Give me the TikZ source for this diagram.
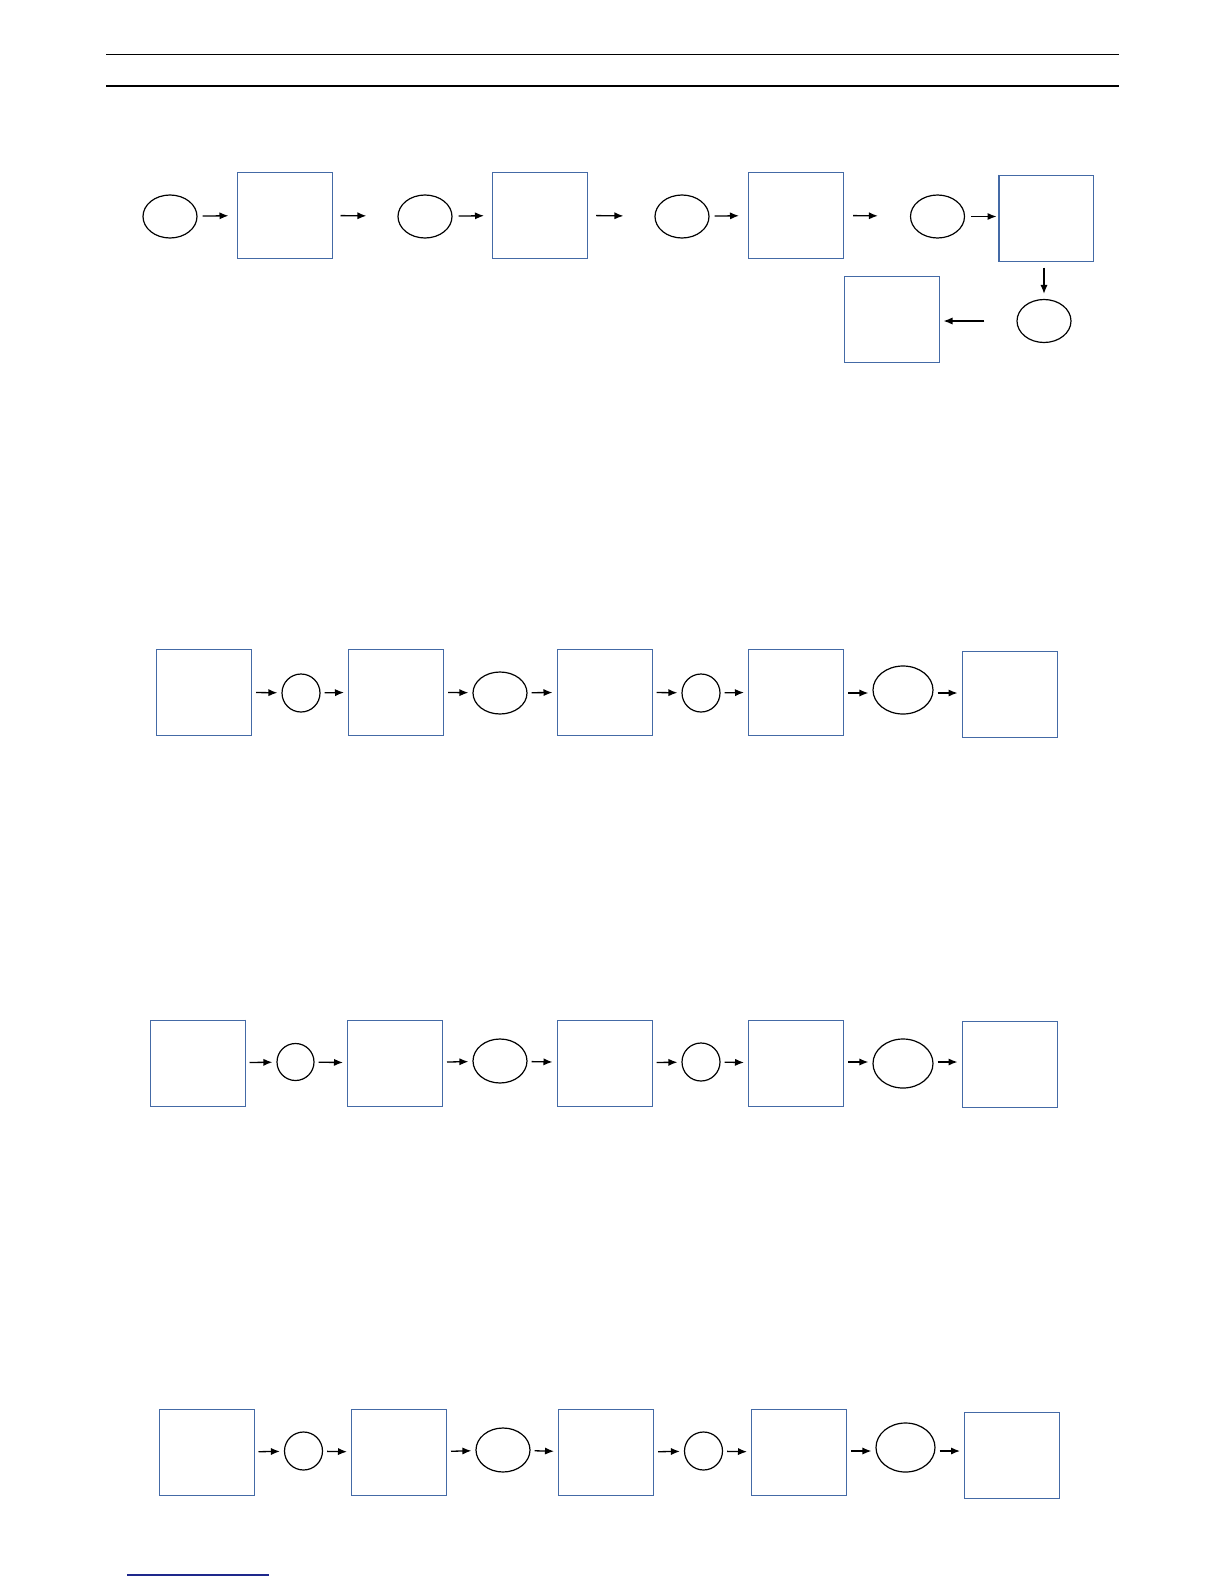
\documentclass[tikz,border=0pt]{standalone}
\usepackage{xcolor}
\usepackage{tikz}
\usetikzlibrary{shapes.geometric, arrows.meta, positioning}

\definecolor{boxblue}{RGB}{68,106,166}
\definecolor{notenavy}{RGB}{30,40,140}

\tikzset{
    stage/.style={rectangle, draw=boxblue, line width=0.5pt, inner sep=0pt, minimum width=47.5pt, minimum height=43pt},
    oval/.style={ellipse, draw=black, line width=0.6pt, inner sep=0pt, minimum width=27pt, minimum height=21.5pt},
    bigoval/.style={oval, minimum width=30pt, minimum height=24pt},
    ring/.style={circle, draw=black, line width=0.6pt, inner sep=0pt, minimum size=19pt},
    flow/.style={-{Latex[length=4.5pt,width=3.6pt]}, line width=0.65pt, shorten <=2pt, shorten >=2pt},
    gapflow/.style={flow, shorten <=4pt, shorten >=15.5pt},
}

\begin{document}
\begin{tikzpicture}[x=0.5pt, y=-0.5pt]
    \useasboundingbox (0,0) rectangle (1224,1584);

    % Header rules
    \draw[line width=0.6pt] (106,54.5) -- (1119,54.5);
    \draw[line width=0.6pt] (106,86) -- (1119,86);

    % Row 1
    \node[oval] (e1) at (170,216.5) {};
    \node[stage] (b1) at (284.5,215) {};
    \node[oval] (e2) at (425,216.5) {};
    \node[stage] (b2) at (540,215) {};
    \node[oval] (e3) at (682,216.5) {};
    \node[stage] (b3) at (796,215) {};
    \node[oval] (e4) at (937.5,216.5) {};
    \node[stage, minimum width=47pt] (b4) at (1046,218) {};
    \node[oval] (e5) at (1044,321) {};
    \node[stage] (b5) at (891.5,319.5) {};
    \draw[boxblue, line width=0.9pt] (b4.north west) -- (b4.south west);

    \draw[flow, shorten <=2.5pt, shorten >=4pt] (e1) -- (b1);
    \draw[gapflow] (b1) -- (e2);
    \draw[flow, shorten <=3pt, shorten >=4pt] (e2) -- (b2);
    \draw[gapflow] (b2) -- (e3);
    \draw[flow, shorten <=2.5pt, shorten >=4.5pt] (e3) -- (b3);
    \draw[gapflow, shorten <=4.5pt, shorten >=16pt] (b3) -- (e4);
    \draw[flow, shorten <=3pt, shorten >=1pt] (e4) -- (e4 -| b4.west);
    \draw[flow, shorten <=3pt, shorten >=2.5pt] (e5 |- b4.south) -- (e5);
    \draw[flow, shorten <=16pt, shorten >=2pt] (e5) -- (e5 -| b5.east);

    % Row 2
    \node[stage] (ra1) at (204,692) {};
    \node[ring] (rc1) at (301,693) {};
    \node[stage] (ra2) at (396,692) {};
    \node[oval, minimum height=21pt] (re1) at (500,693) {};
    \node[stage] (ra3) at (604.5,692) {};
    \node[ring] (rc2) at (701,693) {};
    \node[stage] (ra4) at (796,692) {};
    \node[bigoval] (re2) at (903,690) {};
    \node[stage] (ra5) at (1009.5,694.5) {};

    \draw[flow] (ra1) -- (rc1);
    \draw[flow] (rc1) -- (ra2);
    \draw[flow] (ra2) -- (re1);
    \draw[flow] (re1) -- (ra3);
    \draw[flow] (ra3) -- (rc2);
    \draw[flow] (rc2) -- (ra4);
    \draw[flow] (ra4.east |- rc2) -- (re2.west |- rc2);
    \draw[flow] (re2.east |- rc2) -- (ra5.west |- rc2);

    % Row 3
    \node[stage] (sa1) at (197.5,1063) {};
    \node[ring, minimum size=18.5pt] (sc1) at (295.5,1062) {};
    \node[stage] (sa2) at (395,1063) {};
    \node[oval, minimum height=22pt] (se1) at (500,1061) {};
    \node[stage] (sa3) at (604.5,1063) {};
    \node[ring] (sc2) at (701,1062) {};
    \node[stage] (sa4) at (796,1063) {};
    \node[bigoval, minimum height=24.5pt] (se2) at (903,1063.5) {};
    \node[stage] (sa5) at (1009.5,1064.5) {};
    \draw[boxblue, line width=0.9pt] (sa1.north east) -- (sa1.south east);

    \draw[flow] (sa1) -- (sc1);
    \draw[flow] (sc1) -- (sa2);
    \draw[flow] (sa2) -- (se1);
    \draw[flow] (se1) -- (sa3);
    \draw[flow] (sa3) -- (sc2);
    \draw[flow] (sc2) -- (sa4);
    \draw[flow] (sa4.east |- sc2) -- (se2.west |- sc2);
    \draw[flow] (se2.east |- sc2) -- (sa5.west |- sc2);

    % Row 4
    \node[stage] (ta1) at (206.5,1452.5) {};
    \node[ring] (tc1) at (303.5,1451) {};
    \node[stage] (ta2) at (399,1452.5) {};
    \node[oval, minimum height=22pt] (te1) at (503,1450) {};
    \node[stage] (ta3) at (606,1452.5) {};
    \node[ring] (tc2) at (703.5,1451) {};
    \node[stage] (ta4) at (799,1452.5) {};
    \node[bigoval, minimum width=29.5pt, minimum height=24.5pt] (te2) at (905.5,1447.5) {};
    \node[stage] (ta5) at (1012,1455) {};
    \draw[boxblue, line width=0.9pt] (ta1.north east) -- (ta1.south east);

    \draw[flow] (ta1) -- (tc1);
    \draw[flow] (tc1) -- (ta2);
    \draw[flow] (ta2) -- (te1);
    \draw[flow] (te1) -- (ta3);
    \draw[flow] (ta3) -- (tc2);
    \draw[flow] (tc2) -- (ta4);
    \draw[flow] (ta4.east |- tc2) -- (te2.west |- tc2);
    \draw[flow] (te2.east |- tc2) -- (ta5.west |- tc2);

    % Footnote rule
    \draw[notenavy, line width=0.6pt] (127,1575) -- (269,1575);
\end{tikzpicture}
\end{document}
